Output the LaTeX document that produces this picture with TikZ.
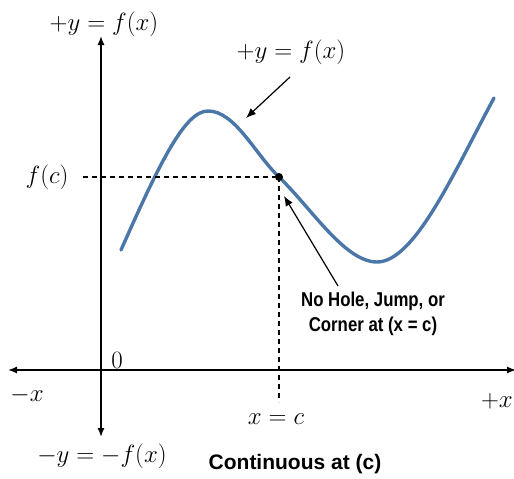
\documentclass[tikz,border=0pt]{standalone}
\usepackage{fontspec}
\newfontfamily\lab{Liberation Sans}
\newfontfamily\labn[FakeStretch=0.84]{Liberation Sans}
\usetikzlibrary{arrows.meta}
\definecolor{curveblue}{RGB}{74,118,168}
\begin{document}
\begin{tikzpicture}[x=1pt,y=-1pt,
  axis/.style={line width=1.4pt,-{Latex[length=9pt,width=7pt]}},
  guide/.style={line width=1.1pt,dash pattern=on 5pt off 4pt},
  pointer/.style={line width=1.2pt,-{Latex[length=10pt,width=8pt]}},
  mathlab/.style={font=\fontsize{24}{28}\selectfont,inner sep=0pt},
  boldlab/.style={font=\lab\bfseries\fontsize{21}{24}\selectfont,inner sep=0pt,align=center},
  boldlabn/.style={font=\labn\bfseries\fontsize{20}{25}\selectfont,inner sep=0pt,align=center},
  fcurve/.style={curveblue,line width=3.4pt,line cap=round}]
\useasboundingbox (0,0) rectangle (514,479);
% axes
\coordinate (yt) at (101,36);
\coordinate (yb) at (101,437);
\coordinate (xl) at (8,370);
\coordinate (xr) at (516,370);
\coordinate (orig) at (101,370);
\draw[axis] (orig) -- (yt);
\draw[axis] (orig) -- (yb);
\draw[axis] (orig) -- (xl);
\draw[axis] (orig) -- (xr);
% curve
\draw[fcurve] (121,250) .. controls (160,162) and (185,111) .. (208,111)
  .. controls (235,111) and (255,154) .. (279,177)
  .. controls (312,209) and (345,262) .. (377,262)
  .. controls (415,262) and (455,170) .. (494,98);
% point and guides
\node[circle,fill=black,inner sep=0pt,minimum size=8pt] (P) at (279,177) {};
\coordinate (fl) at (83,177);
\coordinate (xc) at (279,402);
\draw[guide] (fl) -- (P.center);
\draw[guide] (P.center) -- (xc);
% labels
\node[mathlab] (ytop) at (104,24) {$+y=f(x)$};
\node[mathlab] (yfx) at (291,52) {$+y=f(x)$};
\node[mathlab] (fc) at (47,177) {$f(c)$};
\node[mathlab] (zero) at (117,360) {$0$};
\node[mathlab] (mx) at (27,395) {$-x$};
\node[mathlab,anchor=east] (px) at (513,401) {$+x$};
\node[mathlab] (xeqc) at (276,419) {$x=c$};
\node[mathlab] (ybot) at (102,456) {$-y=-f(x)$};
\node[boldlab] (cont) at (295,464) {Continuous at (c)};
\node[boldlabn] (nohole) at (373,314) {No Hole, Jump, or\\Corner at (x = c)};
% pointers
\coordinate (a1s) at (290,77);
\coordinate (a1e) at (246,118);
\draw[pointer] (a1s) -- (a1e);
\coordinate (a2s) at (338,286);
\coordinate (a2e) at (284,196);
\draw[pointer] (a2s) -- (a2e);
\end{tikzpicture}
\end{document}
